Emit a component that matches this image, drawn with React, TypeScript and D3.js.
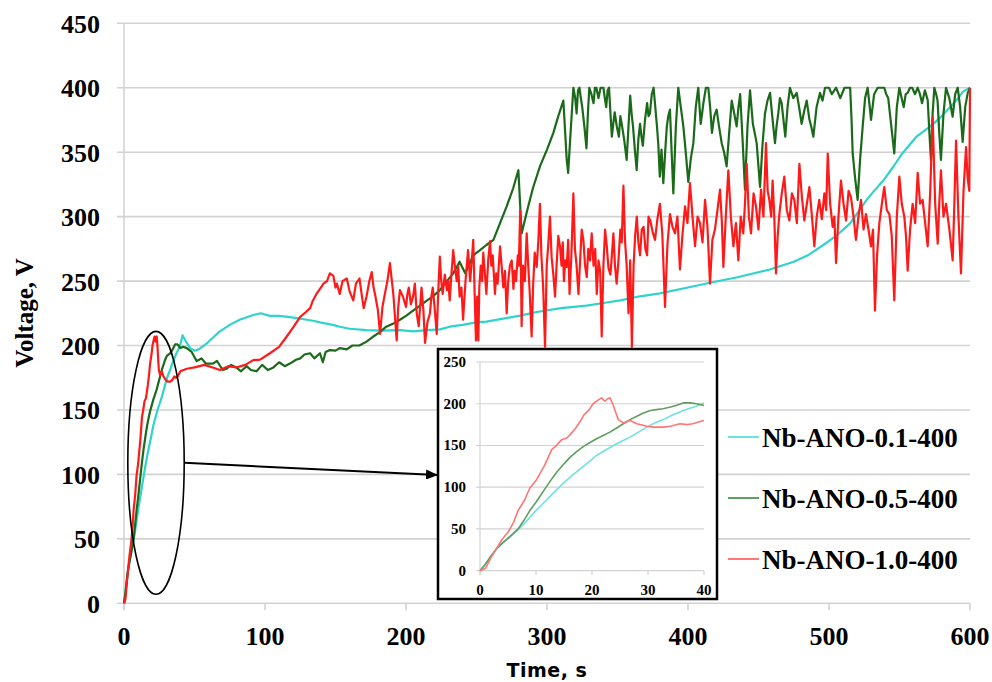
import React from 'react';
import * as d3 from 'd3';

const xTicks = [0, 100, 200, 300, 400, 500, 600];
const yTicks = [0, 50, 100, 150, 200, 250, 300, 350, 400, 450];
const insetXTicks = [0, 10, 20, 30, 40];
const insetYTicks = [0, 50, 100, 150, 200, 250];
const seriesNames = ['Nb-ANO-0.1-400', 'Nb-ANO-0.5-400', 'Nb-ANO-1.0-400'];

// first 40 s (also shown in the inset)
const cyanEarly: [number, number][] = [
  [0, 0], [1, 8], [2, 18], [3, 26], [4, 33], [5, 38], [6, 44], [6.8, 49], [8, 57], [8.9, 64], [10, 72],
  [11.9, 85], [13.4, 95], [14.9, 105], [16.4, 114], [17.9, 122], [19.4, 130], [20.8, 138], [22.3, 144],
  [23.8, 150], [25.3, 155], [26.8, 160], [28.3, 166], [29.8, 172], [31.2, 177], [32.7, 181], [34.2, 186],
  [35.7, 190], [37.2, 194], [38.6, 197], [40, 201],
];
const greenEarly: [number, number][] = [
  [0, 0], [1, 8], [2, 18], [3, 27], [4, 33], [5, 39], [6, 45], [6.8, 50], [8, 62], [8.9, 72], [10, 82],
  [11.3, 95], [12.5, 107], [13.7, 118], [15, 128], [16.1, 136], [17.3, 143], [18.5, 149], [19.5, 153],
  [20.8, 158], [22, 162], [23.2, 166], [24.4, 171], [25.6, 176], [26.8, 181], [28, 185], [29.2, 189],
  [30.4, 192], [31.5, 193], [32.7, 194], [34, 196], [35, 198], [36.3, 201], [37.5, 201], [38.7, 200], [40, 198],
];
const redEarly: [number, number][] = [
  [0, 0], [1, 3], [2, 16], [3, 27], [4, 38], [5, 46], [6, 58], [6.8, 72], [8, 85], [8.9, 99], [10, 108],
  [11, 120], [11.6, 127], [12.8, 145], [13.5, 149], [14.6, 157], [15.5, 159], [16.1, 163], [17, 170],
  [18, 180], [18.5, 186], [19.5, 193], [20.2, 200], [21, 204], [21.7, 207], [22.3, 203], [22.8, 206],
  [23.2, 207], [23.7, 200], [24.2, 190], [24.7, 181], [25.6, 177], [26.8, 180], [28, 176], [29.8, 173],
  [31, 172], [32.7, 172], [34, 173], [35.7, 176], [37, 175], [38, 176], [39, 178], [40, 180],
];

// after 40 s
const cyanLate: [number, number][] = [
  [41.5, 208], [44, 203], [47, 198], [50, 196], [53, 197], [58, 201], [63, 206], [68, 211], [75, 216],
  [82, 220], [91.7, 223.7], [97, 225], [103.5, 223], [110, 223], [117.7, 222], [124, 221], [129.6, 220],
  [135, 219], [139, 218], [148, 216], [153, 214.6], [160, 213], [172, 212], [182, 211.5], [196, 212],
  [205, 211], [215, 212], [224, 212.5], [231, 214.6], [240, 216], [250, 218], [257, 218.5], [270, 221],
  [280, 223], [292.7, 226], [310, 229], [328, 231], [340, 233], [352, 235], [365, 238], [380, 240.5],
  [400, 245], [415.6, 248.7], [435, 253], [458, 259], [475, 265], [485, 270], [496, 278], [505, 285],
  [515, 294.8], [521, 304], [526.7, 313], [532, 320], [538.5, 328], [545.6, 338.7], [552, 349], [562, 362],
  [568, 367], [574, 372], [580, 378], [586, 385], [591, 391], [595, 397], [600, 400],
];
const greenLate: [number, number][] = [
  [42, 199], [44.5, 198], [48, 195], [51.5, 188], [55, 190], [58, 186], [63, 186], [66, 188], [70, 181],
  [72.8, 182], [76, 185], [79.6, 183], [83, 180], [87, 184], [90, 181], [94, 180], [98, 185], [102, 181],
  [106, 183], [110, 187], [114, 184], [117.7, 186], [122, 189], [125, 190], [128, 193], [132, 194],
  [135, 190], [139, 194], [141, 187], [143, 195], [146, 196.5], [150, 196], [153, 198], [158, 197],
  [162, 200], [167, 200], [172, 203], [176.8, 207], [181, 210], [186, 214.6], [191, 217], [195.7, 220],
  [200, 223], [205, 227], [210, 231], [215, 235], [219, 238], [224, 243], [229, 250], [233.5, 256],
  [238, 265], [242, 256], [247.7, 270], [252.5, 274], [257, 278], [262, 282], [266, 293], [271.4, 308],
  [276, 322], [279.7, 336], [281, 308], [282, 287], [286, 305], [290, 322], [295, 339], [300, 352],
  [304.5, 365], [308, 378], [311.6, 390], [314, 344], [315, 334], [317, 370],
  [318.7, 400], [320, 392], [321, 380], [322, 398], [323, 400], [324, 392], [325, 385], [326.5, 370],
  [328, 353], [329, 380], [330, 400], [331.5, 395], [333, 388], [334, 400], [335, 400], [336.5, 392],
  [338, 400], [340, 400], [341, 392], [342, 385], [343, 398], [344, 400], [345, 380], [346, 362],
  [347, 372], [348, 381], [349.5, 370], [351, 362], [352, 378], [353, 372], [354.7, 360], [356.5, 344],
  [357.8, 370], [359, 394], [360, 380], [361, 370], [362.3, 352], [363.6, 336], [364.8, 360], [366, 372],
  [367, 362], [368, 355], [369.5, 375], [371, 388], [372, 378], [373, 380], [374.3, 395], [375.6, 400],
  [376.8, 385], [378, 370], [379, 355], [380, 331], [381.2, 352], [382.5, 326], [383.8, 350], [385, 370],
  [386, 378], [387.2, 383], [388.4, 350], [389.6, 318], [391.4, 370], [393.1, 400], [394.9, 385],
  [396.7, 370], [398.4, 350], [400.2, 327], [402, 345], [403.8, 357], [405.5, 385], [407.3, 400],
  [408.2, 385], [409, 372], [410, 380], [410.9, 388], [412.7, 400], [414.4, 400], [415.7, 385], [417, 365],
  [418.6, 378], [420.3, 383], [422, 370], [423.9, 357], [425.6, 350], [427.4, 339], [429.2, 365],
  [431, 390], [432.8, 380], [434.5, 370], [435.8, 385], [437, 395], [438.7, 360], [440.4, 321],
  [442.2, 370], [444, 398], [445, 385], [446, 372], [447.3, 365], [448.7, 357], [449.9, 340], [451.1, 323],
  [452.8, 355], [454.6, 380], [456.4, 390], [458.2, 396], [460, 375], [461.7, 357], [462.8, 370],
  [464, 380], [465.2, 392], [466.4, 388], [467.7, 375], [469, 362], [470.6, 385], [472.3, 400],
  [474.7, 392], [477.1, 396], [478.8, 385], [480.6, 372], [482.4, 382], [484.2, 390], [485, 384],
  [486, 376], [487.4, 370], [488.9, 362], [491.2, 385], [493.6, 396], [495.4, 390], [497.2, 400],
  [500, 400], [502, 395], [505, 400], [508, 392], [511, 400], [513, 400], [515, 400], [516, 375],
  [516.8, 349], [518.5, 330], [520.3, 313], [522.1, 345], [523.9, 370], [525.6, 392], [527.4, 400],
  [528.6, 388], [529.8, 375], [532, 395], [534.5, 400], [537, 400], [539.2, 400], [540.6, 395], [542, 392],
  [544.2, 370], [546.3, 349], [548.1, 385], [549.9, 400], [551.5, 392], [553, 385], [554.4, 395],
  [555.8, 396], [557.4, 400], [559, 400], [561, 395], [562.9, 400], [564.5, 395], [566, 388], [568, 398],
  [570, 390.5], [571.2, 365], [572.3, 344], [573.5, 380], [574.7, 400], [576, 395], [577, 390],
  [578.2, 365], [579.4, 344], [581.2, 380], [583, 400], [585.3, 392], [587.7, 377.5], [589.5, 395],
  [591.3, 400], [593, 385], [594.8, 358], [596.6, 385], [598.4, 396], [600, 400],
];
const redLate: [number, number][] = [
  [44.5, 182], [50, 183], [57, 185], [63, 183], [68, 181], [74, 184], [79.6, 183], [86, 185], [91.7, 188.7],
  [96.5, 189], [103.5, 194], [110, 199], [115.4, 207], [120, 214], [124.8, 222], [129, 226], [132, 229],
  [134, 235], [136.5, 240], [139, 244], [141.5, 248], [144, 250], [146, 256], [148.5, 254], [150, 245],
  [151, 248], [153, 240], [155, 250], [158, 252], [160, 242], [162.6, 235], [164.5, 248], [167, 252],
  [168.5, 240], [170, 229], [172, 238], [174, 250], [175.7, 257], [177, 245], [178, 240], [180, 228],
  [181.6, 209], [183.3, 230], [185, 240], [186.8, 250], [188.6, 264], [190, 250], [191, 240], [192.2, 222],
  [193.4, 204], [194.5, 230], [195.7, 243], [197.8, 238], [200, 230], [201, 240], [202, 245], [203.5, 232],
  [205, 238], [206.3, 248], [207.6, 225], [209, 215], [210, 230], [211, 245], [212.3, 228], [213.5, 202],
  [215.2, 218], [217, 225], [218, 238], [219, 245], [220.4, 228], [221.8, 209], [223, 245], [224, 269],
  [225, 250], [226, 240], [227.5, 255], [229, 243], [230, 250], [231, 235], [232.2, 255], [233.5, 274],
  [234.8, 260], [236, 250], [237, 262], [238, 238], [239.3, 245], [240.5, 220], [242.2, 250], [244, 274],
  [245.5, 250], [246.6, 265], [247.7, 282], [248.7, 240], [249.6, 204], [250.5, 238], [251.3, 204],
  [252, 245], [253, 262], [254, 250], [254.8, 272], [255.8, 258], [257, 240], [258.3, 266], [259.6, 281],
  [260.5, 262], [261.5, 270], [263.1, 240], [264, 256], [265, 248], [266.7, 277], [267.8, 262], [269, 245],
  [270.2, 258], [271.4, 225], [272.5, 250], [273.7, 262], [275, 266], [276.2, 244], [277, 258], [278, 250],
  [279.3, 270], [280, 262], [281, 305], [282, 215], [283, 262], [284.3, 250], [285.6, 287], [286.7, 262],
  [287.8, 240], [289.1, 207], [290.2, 248], [291.3, 272], [292.7, 261], [293.8, 280], [295, 310],
  [296, 270], [297.3, 245], [298.6, 199], [299.8, 262], [301, 280], [302.1, 300], [303.3, 268],
  [304.5, 255], [305.7, 238], [306.8, 262], [308, 285], [309.2, 277], [310.3, 262], [311.2, 280],
  [312, 250], [313, 266], [314, 261], [315, 282], [316, 240], [317.3, 270], [318.7, 318], [319.8, 275],
  [321, 262], [322.3, 240], [323.5, 266], [324.6, 290], [325.8, 282], [327, 262], [328.2, 253],
  [329.3, 275], [330.5, 266], [331.7, 287], [333, 262], [334.2, 275], [335.3, 240], [336.5, 266],
  [337.7, 258], [338.8, 207], [340, 262], [341.2, 290], [342.4, 277], [343.6, 260], [345, 255], [346, 270],
  [347.1, 287], [348.2, 262], [349.4, 248], [350.7, 266], [352, 290], [353, 280], [354.2, 324],
  [355.3, 282], [356.5, 262], [357.8, 225], [359, 266], [360.2, 199], [361.4, 262], [362.5, 285],
  [363.7, 300], [364.8, 280], [366, 270], [367.2, 290], [368.5, 292], [369.8, 275], [371, 270], [372, 300],
  [373.2, 297], [375, 288], [376.6, 282], [378.3, 298], [380.1, 310], [381.8, 286], [383.7, 230],
  [385.4, 278], [387.2, 302], [389, 292], [390.8, 287], [392.5, 300], [394.3, 259], [396, 285],
  [397.9, 308], [399.6, 295], [401.4, 326], [403.2, 300], [405, 277], [406.8, 300], [408.5, 295],
  [410.3, 280], [412.1, 313], [413.8, 292], [415.6, 248], [417.3, 282], [419.1, 290], [420.9, 305],
  [422.7, 321], [424, 296], [425.1, 261], [426.8, 300], [428.6, 336], [430.4, 300], [432.2, 277],
  [434, 295], [435.7, 266], [437.4, 300], [439.2, 287], [440.4, 310], [441.6, 341], [443.2, 300],
  [444.7, 287], [446.5, 318], [448.2, 308], [450, 290], [451.8, 321], [453.5, 300], [455.3, 357],
  [456.5, 320], [457.7, 313], [459, 300], [460, 328], [461.2, 300], [462.4, 256], [463.6, 285],
  [464.8, 302], [466.5, 318], [468.3, 331], [470.1, 305], [471.9, 297], [473.7, 318], [475.4, 313],
  [477.2, 295], [479, 341], [480.8, 315], [482.5, 297], [484.3, 310], [486.1, 323], [487.9, 300],
  [489.6, 277], [491.3, 300], [493.1, 313], [494.9, 298], [496.7, 318], [498, 305], [499.1, 349],
  [500.8, 310], [502.6, 292], [503.8, 300], [505, 264], [506.7, 300], [508.5, 328], [510.3, 310],
  [512.1, 297], [513.9, 320], [515.6, 315], [517.4, 300], [519.1, 282], [520.9, 300], [522.7, 313],
  [524.5, 290], [526.2, 302], [528, 290], [529.8, 277], [531.2, 290], [532.6, 227], [534.1, 270],
  [535.7, 295], [537.5, 310], [539.2, 323], [541, 305], [542.8, 302], [544.5, 285], [546.3, 235],
  [548.1, 300], [549.9, 331], [551.6, 310], [553.4, 300], [554.6, 285], [555.8, 258], [557.5, 290],
  [559.3, 310], [561.1, 295], [562.9, 334], [564.6, 310], [566.4, 313], [568.2, 295], [570, 277],
  [571.8, 320], [573.5, 377], [575.3, 310], [577.1, 279], [578.2, 310], [579.4, 336], [581.2, 300],
  [583, 310], [585.4, 290], [587.7, 266], [588.9, 310], [590.1, 359], [591.8, 300], [593.6, 256],
  [595.4, 320], [597.2, 354], [598.3, 330], [599.5, 320], [600, 400],
];

const mainColors = ['#2fd3cb', '#1a6a1a', '#ff1a1a'];
const insetColors = ['#6ee2e0', '#5e9e5e', '#ff7676'];

const serif = '"Liberation Serif", "Times New Roman", serif';

export default function App() {
  const x = d3.scaleLinear().domain([0, 600]).range([124, 970]);
  const y = d3.scaleLinear().domain([0, 450]).range([603.3, 23.3]);
  const ix = d3.scaleLinear().domain([0, 40]).range([480, 704]);
  const iy = d3.scaleLinear().domain([0, 250]).range([570.7, 362]);

  const line = d3.line<[number, number]>().x((d) => x(d[0])).y((d) => y(d[1]));
  const iline = d3.line<[number, number]>().x((d) => ix(d[0])).y((d) => iy(d[1]));

  const mainSeries = [
    cyanEarly.concat(cyanLate),
    greenEarly.concat(greenLate),
    redEarly.concat(redLate),
  ];
  const insetSeries = [cyanEarly, greenEarly, redEarly];
  const grid = '#d2d2d2';

  // ellipse annotation around the first 40 s
  const ecx = x(22.7);
  const ecy = y(109);
  const erx = x(20) - x(0);
  const ery = y(0) - y(102);

  const legendY = [437, 498, 559];

  return (
    <svg width={992} height={682} style={{ position: 'absolute', left: 0, top: 0, background: '#fff' }}>
      <rect x={0} y={0} width={992} height={682} fill="#fff" />
      {yTicks.map((t) => (
        <line key={'gy' + t} x1={117} x2={x(600)} y1={y(t)} y2={y(t)} stroke={grid} strokeWidth={1.6} />
      ))}
      <line x1={x(0)} x2={x(0)} y1={y(450)} y2={y(0) + 6} stroke={grid} strokeWidth={1.6} />
      {xTicks.map((t) => (
        <line key={'tx' + t} x1={x(t)} x2={x(t)} y1={y(0)} y2={y(0) + 7} stroke={grid} strokeWidth={1.6} />
      ))}
      {yTicks.map((t) => (
        <text key={'ly' + t} x={100} y={y(t) + 9.5} textAnchor="end" fontFamily={serif} fontWeight="bold" fontSize={26}>
          {t}
        </text>
      ))}
      {xTicks.map((t) => (
        <text key={'lx' + t} x={x(t)} y={645} textAnchor="middle" fontFamily={serif} fontWeight="bold" fontSize={26}>
          {t}
        </text>
      ))}
      <text x={547} y={677} textAnchor="middle" fontFamily='"DejaVu Sans", Verdana, sans-serif' fontWeight="bold" fontSize={19} letterSpacing={0.5}>
        Time, s
      </text>
      <text transform={`translate(33,313) rotate(-90)`} textAnchor="middle" fontFamily={serif} fontWeight="bold" fontSize={25}>
        Voltage, V
      </text>

      {mainSeries.map((s, i) => (
        <path key={'m' + i} d={line(s) || ''} fill="none" stroke={mainColors[i]} strokeWidth={2.2} strokeLinejoin="round" />
      ))}

      <ellipse cx={ecx} cy={ecy} rx={erx} ry={ery} fill="none" stroke="#000" strokeWidth={1.6} />
      <defs>
        <marker id="arr" markerWidth={12} markerHeight={10} refX={11} refY={5} orient="auto" markerUnits="userSpaceOnUse">
          <path d="M0,0 L12,5 L0,10 Z" fill="#000" />
        </marker>
      </defs>
      <line x1={ecx + erx} y1={ecy} x2={437} y2={475} stroke="#000" strokeWidth={2} markerEnd="url(#arr)" />

      <rect x={438} y={349} width={279} height={250} fill="#fff" stroke="#000" strokeWidth={2.5} />
      {insetYTicks.map((t) => (
        <line key={'igy' + t} x1={476} x2={ix(40)} y1={iy(t)} y2={iy(t)} stroke={grid} strokeWidth={1.2} />
      ))}
      <line x1={ix(0)} x2={ix(0)} y1={iy(250)} y2={iy(0) + 4} stroke={grid} strokeWidth={1.2} />
      {insetXTicks.map((t) => (
        <line key={'itx' + t} x1={ix(t)} x2={ix(t)} y1={iy(0)} y2={iy(0) + 4} stroke={grid} strokeWidth={1.2} />
      ))}
      {insetYTicks.map((t) => (
        <text key={'ily' + t} x={466} y={iy(t) + 5} textAnchor="end" fontFamily={serif} fontWeight="bold" fontSize={15}>
          {t}
        </text>
      ))}
      {insetXTicks.map((t) => (
        <text key={'ilx' + t} x={ix(t)} y={595} textAnchor="middle" fontFamily={serif} fontWeight="bold" fontSize={15}>
          {t}
        </text>
      ))}
      {insetSeries.map((s, i) => (
        <path key={'i' + i} d={iline(s) || ''} fill="none" stroke={insetColors[i]} strokeWidth={1.6} strokeLinejoin="round" />
      ))}

      {seriesNames.map((n, i) => (
        <g key={n}>
          <line x1={728} x2={759} y1={legendY[i]} y2={legendY[i]} stroke={insetColors[i]} strokeWidth={2} />
          <text x={762} y={legendY[i] + 9.5} fontFamily={serif} fontWeight="bold" fontSize={27}>
            {n}
          </text>
        </g>
      ))}
    </svg>
  );
}
